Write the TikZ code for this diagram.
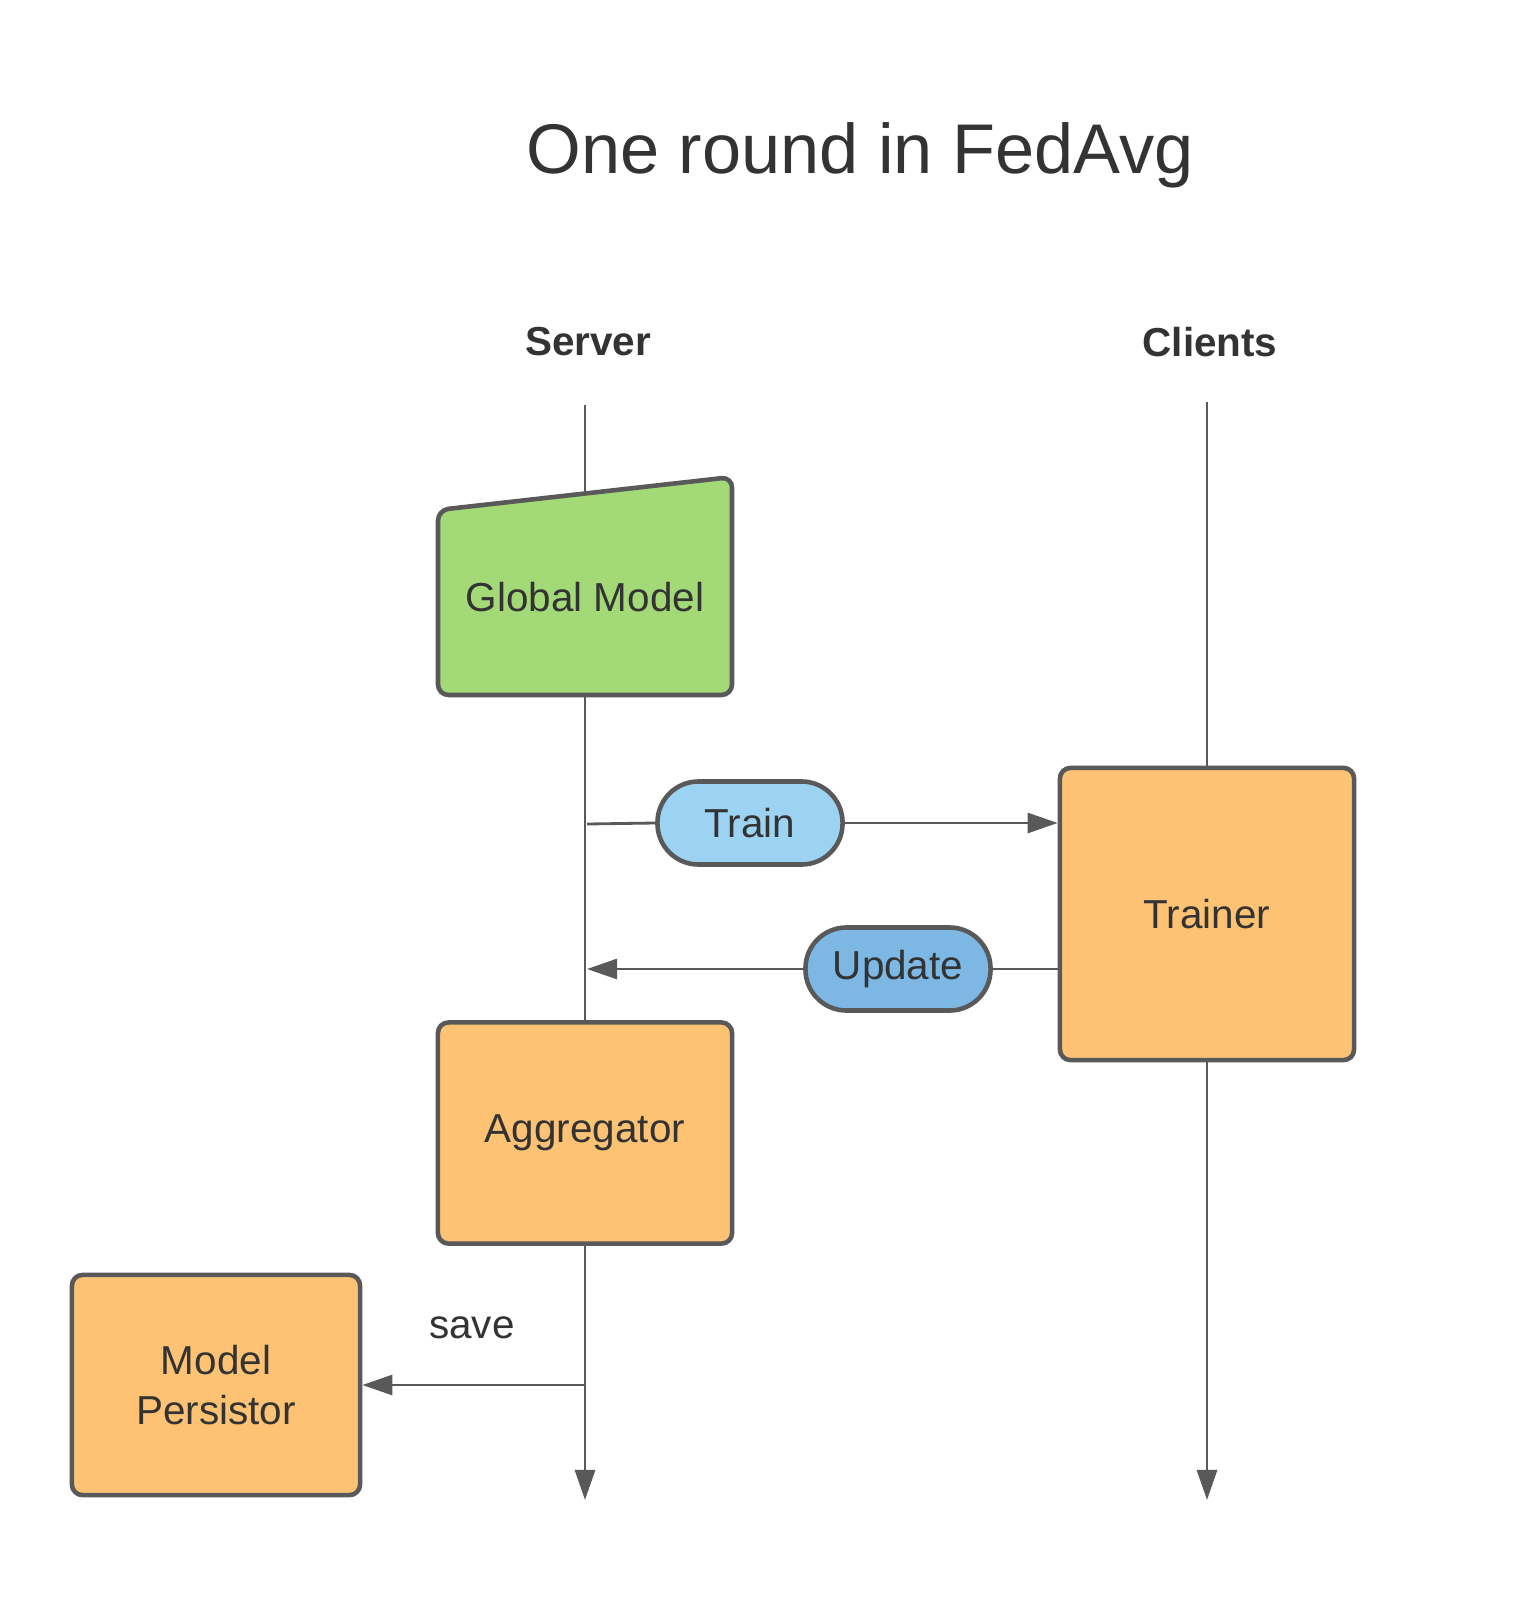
\documentclass[tikz,border=0pt]{standalone}
\usepackage{fontspec}
\setmainfont{Liberation Sans}
\usetikzlibrary{arrows.meta}
\definecolor{ln}{HTML}{595959}
\definecolor{grn}{HTML}{A3D977}
\definecolor{org}{HTML}{FDC274}
\definecolor{lb}{HTML}{9CD3F2}
\definecolor{mb}{HTML}{7DB8E5}
\begin{document}
\begin{tikzpicture}[x=0.01cm,y=-0.01cm,
  box/.style={draw=ln,line width=1.3pt,rounded corners=3pt,inner sep=0pt},
  pill/.style={draw=ln,line width=1.3pt,rounded corners=0.41cm,inner sep=0pt,minimum width=1.85cm,minimum height=0.83cm,font=\fontsize{11.5}{13}\selectfont,text=black!80},
  life/.style={ln,line width=0.8pt},
  arr/.style={ln,line width=0.8pt,-{Triangle[length=0.3cm,width=0.2cm]}},
  lbl/.style={font=\fontsize{11.5}{14}\selectfont,text=black!80,align=center}]
\useasboundingbox (0,0) rectangle (1534,1600);
\node[font=\fontsize{20}{24}\selectfont,text=black!80] (title) at (860,155) {One round in FedAvg};
\node[font=\bfseries\fontsize{11.5}{14}\selectfont,text=black!80] (srv) at (588,342) {Server};
\node[font=\bfseries\fontsize{11.5}{14}\selectfont,text=black!80] (cli) at (1210,342) {Clients};
\coordinate (s0) at (585,405); \coordinate (s1) at (585,1500);
\coordinate (c0) at (1207,402); \coordinate (c1) at (1207,1500);
\draw[arr] (s0) -- (s1);
\draw[arr] (c0) -- (c1);
% global model
\draw[box,fill=grn] (438,510) -- (732,477) -- (732,695) -- (438,695) -- cycle;
\node[lbl] (gm) at (585,597) {Global Model};
\node[box,fill=org,minimum width=2.94cm,minimum height=2.92cm] (tr) at (1207,914) {};
\node[lbl] at (tr) {Trainer};
\node[box,fill=org,minimum width=2.94cm,minimum height=2.21cm] (ag) at (585,1133) {};
\node[lbl] at (ag) {Aggregator};
\node[box,fill=org,minimum width=2.88cm,minimum height=2.2cm] (mp) at (216,1385) {};
\node[lbl] at (mp) {Model\\Persistor};
\node[pill,fill=lb] (train) at (750,823) {Train};
\node[pill,fill=mb] (upd) at (898,969) {Update};
\coordinate (t0) at (587,824);
\draw[life] (t0) -- (train.west);
\draw[arr] (train.east) -- (tr.west |- train.east);
\draw[life] (tr.west |- upd.east) -- (upd.east);
\draw[arr] (upd.west) -- (587,969);
\coordinate (sv) at (585,1385);
\draw[arr] (sv) -- (mp.east);
\node[lbl] (save) at (472,1328) {save};
\end{tikzpicture}
\end{document}
